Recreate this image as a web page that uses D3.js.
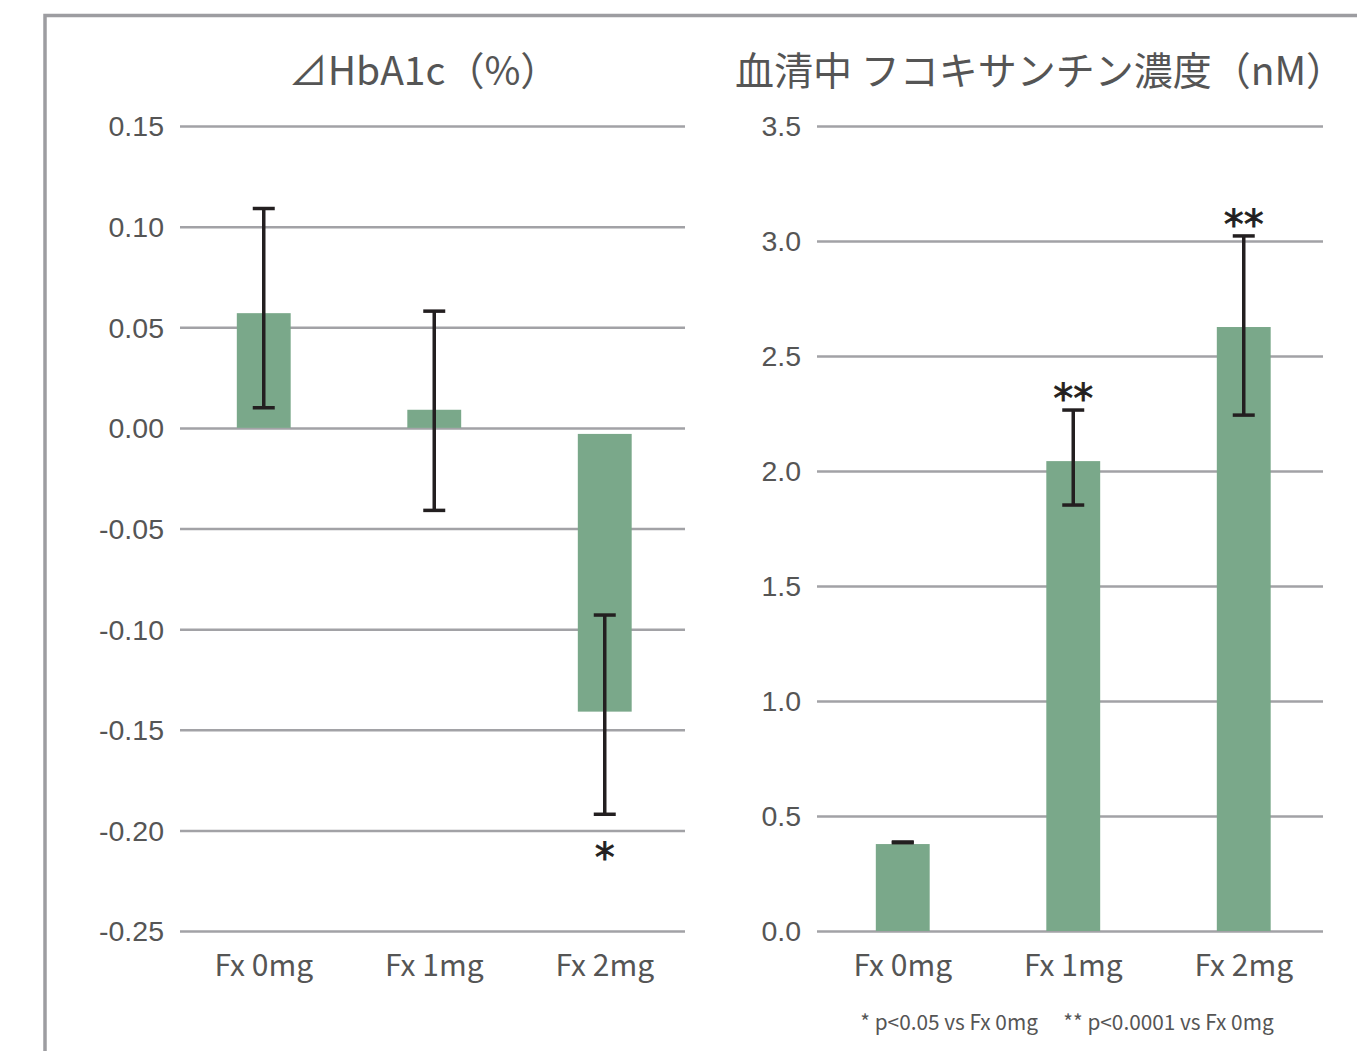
<!DOCTYPE html>
<html>
<head>
<meta charset="utf-8">
<script src="https://cdn.jsdelivr.net/npm/d3@7"></script>
<style>
  html, body { margin: 0; padding: 0; background: #fff; }
  svg { display: block; }
</style>
</head>
<body>
<svg id="chart" width="1357" height="1051"></svg>
<script>
// Dose groups shared by both panels
const categories = ["Fx 0mg", "Fx 1mg", "Fx 2mg"];

// Panel 1: change in HbA1c (%)
const hbaTitle = "⊿HbA1c（%）";
const hbaTicks = [0.15, 0.10, 0.05, 0.00, -0.05, -0.10, -0.15, -0.20, -0.25];
const hbaBarStart = [0, 0, -0.003];
const hbaMean = [0.057, 0.009, -0.141];
const hbaErrHigh = [0.109, 0.058, -0.093];
const hbaErrLow = [0.010, -0.041, -0.192];
const hbaMarks = ["", "", "*"];

// Panel 2: serum fucoxanthin concentration (nM)
const fxTitle = "血清中 フコキサンチン濃度（nM）";
const fxTicks = [3.5, 3.0, 2.5, 2.0, 1.5, 1.0, 0.5, 0.0];
const fxBarStart = [0, 0, 0];
const fxMean = [0.378, 2.043, 2.626];
const fxErrHigh = [0.387, 2.265, 3.022];
const fxErrLow = [0.384, 1.852, 2.243];
const fxMarks = ["", "**", "**"];

const footnote = "* p<0.05 vs Fx 0mg　 ** p<0.0001 vs Fx 0mg";

const svg = d3.select("#chart");
const textColor = "#555";
const gridColor = "#a2a2a6";
const barColor = "#7aa88a";
const errColor = "#231f20";

// Outer frame (top and left edges visible)
svg.append("path")
  .attr("d", "M45,1051 V15.5 H1357")
  .attr("fill", "none")
  .attr("stroke", "#9d9da1")
  .attr("stroke-width", 3.5);

function panel(opt) {
  const g = svg.append("g");
  const y = d3.scaleLinear().domain(opt.domain).range([opt.yBottom, opt.yTop]);
  const x = d3.scaleBand().domain(categories).range(opt.xRange).paddingInner(0.684).paddingOuter(0.342);
  const fmt = d3.format(opt.fmt);

  // Title
  g.append("text")
    .attr("x", opt.titleX).attr("y", 85)
    .attr("text-anchor", "middle")
    .style("font-family", "'Noto Sans CJK JP', 'Noto Sans', sans-serif")
    .style("font-weight", 400)
    .style("font-size", "39px")
    .attr("fill", textColor)
    .text(opt.title);

  // Horizontal gridlines through the axis
  const axis = d3.axisLeft(y).tickValues(opt.ticks)
    .tickSize(-(opt.gridX2 - opt.gridX1))
    .tickPadding(16)
    .tickFormat(d => fmt(d).replace("−", "-"));
  const ag = g.append("g").attr("transform", `translate(${opt.gridX1},0)`).call(axis);
  ag.select(".domain").remove();
  ag.selectAll(".tick line").attr("stroke", gridColor).attr("stroke-width", 2.5);
  ag.selectAll(".tick text")
    .attr("fill", textColor)
    .style("font-family", "'Liberation Sans', Arimo, Arial, sans-serif")
    .style("font-size", "28.5px")
    .attr("dy", "0.35em");

  // Bars
  g.selectAll("rect.bar").data(categories).join("rect")
    .attr("class", "bar")
    .attr("x", d => x(d))
    .attr("width", x.bandwidth())
    .attr("y", (d, i) => y(Math.max(opt.start[i], opt.mean[i])))
    .attr("height", (d, i) => Math.abs(y(opt.start[i]) - y(opt.mean[i])))
    .attr("fill", barColor);

  // Error bars
  const cx = d => x(d) + x.bandwidth() / 2;
  const cap = 11;
  const eg = g.append("g").attr("stroke", errColor).attr("stroke-width", 3.5).attr("fill", "none");
  categories.forEach((d, i) => {
    const c = cx(d);
    eg.append("line").attr("x1", c).attr("x2", c).attr("y1", y(opt.hi[i])).attr("y2", y(opt.lo[i]));
    eg.append("line").attr("x1", c - cap).attr("x2", c + cap).attr("y1", y(opt.hi[i])).attr("y2", y(opt.hi[i]));
    eg.append("line").attr("x1", c - cap).attr("x2", c + cap).attr("y1", y(opt.lo[i])).attr("y2", y(opt.lo[i]));
  });

  // Significance marks
  categories.forEach((d, i) => {
    if (!opt.marks[i]) return;
    const below = opt.marksBelow;
    g.append("text")
      .attr("x", cx(d))
      .attr("y", below ? y(opt.lo[i]) + 58 : y(opt.hi[i]) + 3)
      .attr("text-anchor", "middle")
      .style("font-family", "'DejaVu Sans', sans-serif")
      .style("font-size", "40px")
      .attr("fill", errColor)
      .attr("stroke", errColor)
      .attr("stroke-width", 0.8)
      .text(opt.marks[i]);
  });

  // Category labels
  g.selectAll("text.cat").data(categories).join("text")
    .attr("class", "cat")
    .attr("x", d => cx(d))
    .attr("y", 976)
    .attr("text-anchor", "middle")
    .style("font-family", "'Noto Sans CJK JP', 'Noto Sans', sans-serif")
    .style("font-size", "30px")
    .attr("fill", textColor)
    .text(d => d);
}

panel({
  title: hbaTitle, titleX: 424,
  domain: [-0.25, 0.15], ticks: hbaTicks, fmt: ".2f",
  yTop: 126, yBottom: 931,
  xRange: [178.5, 690], gridX1: 180, gridX2: 685,
  start: hbaBarStart, mean: hbaMean, hi: hbaErrHigh, lo: hbaErrLow,
  marks: hbaMarks, marksBelow: true
});

panel({
  title: fxTitle, titleX: 1040,
  domain: [0, 3.5], ticks: fxTicks, fmt: ".1f",
  yTop: 126, yBottom: 931,
  xRange: [817.5, 1329], gridX1: 817, gridX2: 1323,
  start: fxBarStart, mean: fxMean, hi: fxErrHigh, lo: fxErrLow,
  marks: fxMarks, marksBelow: false
});

svg.append("text")
  .attr("x", 1067).attr("y", 1030)
  .attr("text-anchor", "middle")
  .style("font-family", "'Noto Sans CJK JP', 'Noto Sans', sans-serif")
  .style("font-size", "20.8px")
  .attr("fill", textColor)
  .text(footnote);
</script>
</body>
</html>
